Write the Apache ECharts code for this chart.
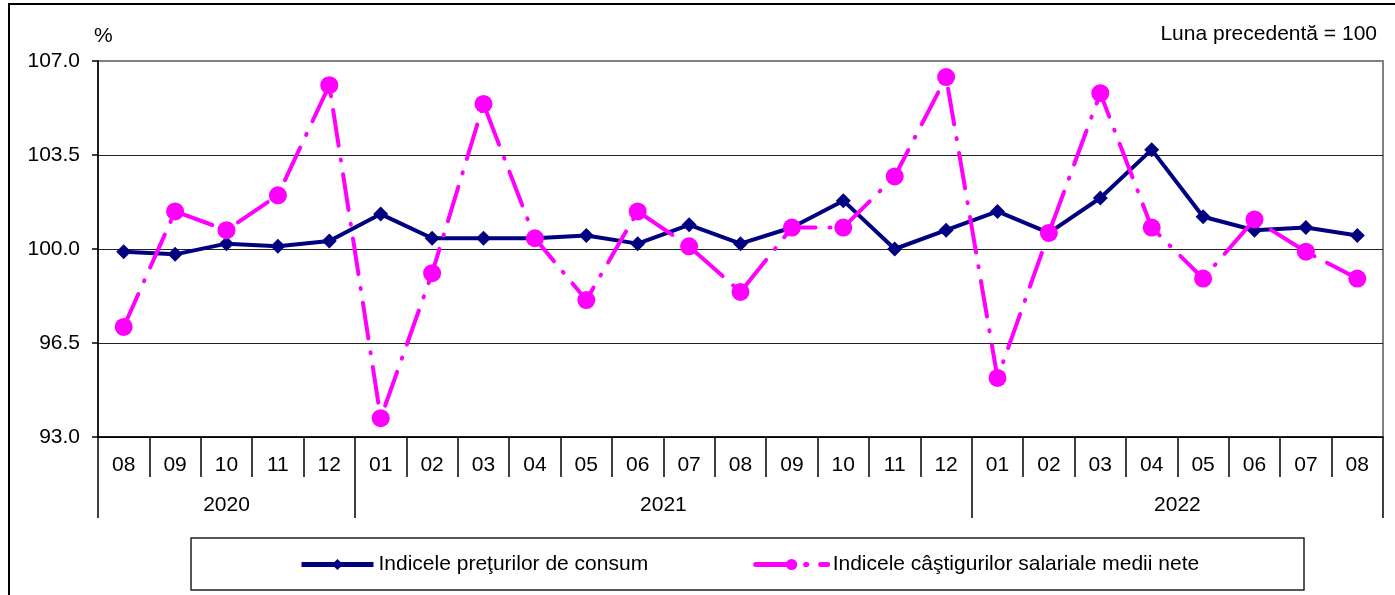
<!DOCTYPE html>
<html>
<head>
<meta charset="utf-8">
<script src="https://cdn.jsdelivr.net/npm/echarts@6/dist/echarts.min.js"></script>
<style>
  html, body { margin: 0; padding: 0; background: #fff; }
  #chart { width: 1395px; height: 595px; }
</style>
</head>
<body>
<div id="chart"></div>
<script>
var months = ['08','09','10','11','12','01','02','03','04','05','06','07','08','09','10','11','12','01','02','03','04','05','06','07','08'];
var years = ['2020', '2021', '2022'];
var yearCounts = [5, 12, 8];

// indicele preturilor de consum (luna precedenta = 100)
var ipc = [99.9, 99.8, 100.2, 100.1, 100.3, 101.3, 100.4, 100.4, 100.4, 100.5, 100.2, 100.9, 100.2,
           100.8, 101.8, 100.0, 100.7, 101.4, 100.6, 101.9, 103.7, 101.2, 100.7, 100.8, 100.5];
// indicele castigurilor salariale medii nete
var salarii = [97.1, 101.4, 100.7, 102.0, 106.1, 93.7, 99.1, 105.4, 100.4, 98.1, 101.4, 100.1, 98.4,
               100.8, 100.8, 102.7, 106.4, 95.2, 100.6, 105.8, 100.8, 98.9, 101.1, 99.9, 98.9];

var names = ['Indicele preţurilor de consum', 'Indicele câştigurilor salariale medii nete'];

// limitele si mijloacele grupurilor de ani pe axa de jos
var yearEdges = [0];
var yearMids = [];
for (var i = 0; i < yearCounts.length; i++) {
    var start = yearEdges[yearEdges.length - 1];
    yearMids.push(start + yearCounts[i] / 2);
    yearEdges.push(start + yearCounts[i]);
}

var font = '"Liberation Sans", Arial, sans-serif';
var fs = 21;
var myChart = echarts.init(document.getElementById('chart'));
myChart.setOption({
    animation: false,
    textStyle: { fontFamily: font },
    grid: {
        left: 98,
        right: 12,
        top: 61,
        bottom: 158,
        show: true,
        borderColor: '#808080',
        borderWidth: 2
    },
    legend: {
        left: 294,
        top: 549,
        itemWidth: 72,
        itemHeight: 14,
        itemGap: 105,
        textStyle: { fontSize: fs, color: '#000', fontFamily: font },
        data: [
            { name: names[0], lineStyle: { width: 5 } },
            { name: names[1], lineStyle: { width: 5 } }
        ]
    },
    graphic: [
        {
            type: 'rect',
            shape: { x: 9, y: 4, width: 1400, height: 600 },
            style: { fill: 'none', stroke: '#000', lineWidth: 2 },
            silent: true
        },
        {
            type: 'rect',
            shape: { x: 191, y: 538, width: 1113, height: 52 },
            style: { fill: 'none', stroke: '#222', lineWidth: 1.5 },
            silent: true
        },
        {
            type: 'text',
            left: 94,
            top: 26,
            style: { text: '%', fontSize: fs, fill: '#000', fontFamily: font }
        },
        {
            type: 'text',
            right: 18,
            top: 24,
            style: { text: 'Luna precedentă = 100', fontSize: fs, fill: '#000', fontFamily: font }
        }
    ],
    xAxis: [
        {
            type: 'category',
            data: months,
            boundaryGap: true,
            axisLine: { lineStyle: { color: '#000', width: 1.5 } },
            axisTick: { show: true, length: 40, lineStyle: { color: '#000', width: 1.5 } },
            axisLabel: { interval: 0, margin: 18, fontSize: fs, color: '#000' },
            splitLine: { show: false }
        },
        {
            type: 'value',
            min: 0,
            max: months.length,
            position: 'bottom',
            axisLine: { show: false },
            splitLine: { show: false },
            axisTick: {
                show: true,
                length: 81,
                customValues: yearEdges,
                lineStyle: { color: '#000', width: 1.5 }
            },
            axisLabel: {
                margin: 58,
                fontSize: fs,
                color: '#000',
                customValues: yearMids,
                formatter: function (v) {
                    var k = yearMids.indexOf(v);
                    return k >= 0 ? years[k] : '';
                }
            }
        }
    ],
    yAxis: {
        type: 'value',
        min: 93,
        max: 107,
        interval: 3.5,
        axisLine: { show: true, lineStyle: { color: '#000', width: 1.5 } },
        axisTick: { show: true, length: 6, lineStyle: { color: '#000', width: 1.5 } },
        axisLabel: {
            margin: 18,
            fontSize: fs,
            color: '#000',
            formatter: function (v) { return v.toFixed(1); }
        },
        splitLine: { show: true, lineStyle: { color: ['#000', '#222', '#222', '#222', '#808080'], width: 1.2 } }
    },
    series: [
        {
            name: names[0],
            type: 'line',
            data: ipc,
            symbol: 'diamond',
            symbolSize: 15,
            itemStyle: { color: '#000080' },
            lineStyle: { color: '#000080', width: 4 },
            z: 3
        },
        {
            name: names[1],
            type: 'line',
            data: salarii,
            symbol: 'circle',
            symbolSize: 18,
            itemStyle: { color: '#FF00FF' },
            lineStyle: { color: '#FF00FF', width: 4, type: [36, 14, 1, 14], cap: 'round' },
            z: 4
        }
    ]
});
</script>
</body>
</html>
